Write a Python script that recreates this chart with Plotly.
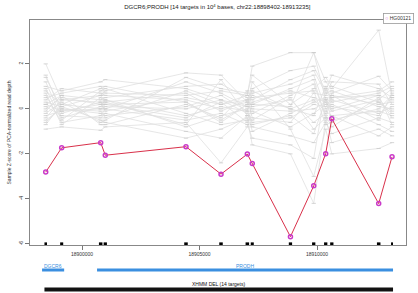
import plotly.graph_objects as go

# ---------------- data ----------------
target_start = [18898402, 18899070, 18900720, 18900920, 18904350, 18905840, 18906960,
                18907180, 18908800, 18909790, 18910300, 18910560, 18912550, 18913150]
target_end = [18898510, 18899200, 18900870, 18901060, 18904500, 18905990, 18907110,
              18907310, 18908940, 18909930, 18910440, 18910700, 18912700, 18913235]

sample_name = "HG00121"
sample_z = [-2.81, -1.73, -1.50, -2.06, -1.68, -2.90, -2.01, -2.43, -5.68, -3.42,
            -1.99, -0.44, -4.21, -2.13]

other_samples_z = [
    [2.0, 0.4, 0.6, 0.8, 1.6, 1.5, 0.3, 0.2, 0.1, 2.5, 0.4, 0.6, 0.2, 0.3],
    [1.5, -0.2, 0.3, -0.1, 0.5, 0.2, 0.6, 1.9, 2.5, 2.5, 1.2, 0.9, 3.5, 0.6],
    [1.0, 0.8, 1.2, 1.3, 0.9, 0.4, -0.2, -0.6, -0.4, 0.2, 0.1, 0.5, 0.8, 1.2],
    [0.6, -0.6, -0.3, 0.0, 1.2, 0.7, 0.1, 0.9, 1.7, 1.9, 0.8, 1.5, 0.9, 0.5],
    [0.3, 0.1, -0.5, -0.6, -1.3, -0.9, -0.4, -1.6, -2.0, -4.2, -0.5, -0.3, -1.2, -0.8],
    [0.0, 0.5, 0.2, 0.3, 0.7, -0.1, 0.4, 0.6, 0.0, -0.3, 1.0, 0.4, -0.2, 0.1],
    [-0.3, -0.1, 0.0, 0.2, -0.4, 0.3, -0.6, -0.2, 0.6, 1.1, -0.3, -0.8, 0.5, -0.4],
    [0.8, 0.2, 0.9, 1.0, 0.3, -0.5, 0.2, 1.2, -0.9, -3.0, -0.9, -2.0, -1.76, -1.5],
    [-0.9, -0.8, -0.95, -0.8, -0.6, -2.4, -0.8, 0.3, 0.8, 0.5, 0.3, -0.1, 0.4, 0.9],
    [0.2, 0.6, 0.4, 0.5, 1.0, 1.1, 0.5, -0.4, -0.6, 0.7, 0.6, 1.2, 1.1, 0.2],
    [-0.5, 0.0, -0.2, -0.3, 0.1, 0.6, -0.1, 0.7, 1.1, 1.5, 0.0, 0.2, -0.7, -1.0],
    [1.2, -0.4, 0.1, 0.4, -0.8, -0.3, 0.0, -1.0, -0.2, 0.3, 0.5, -0.5, 0.0, 0.6],
    [0.4, 0.9, 0.7, 0.6, 0.4, 0.0, 0.3, 0.1, 0.4, -0.6, -0.2, 0.7, 1.45, 0.8],
    [-0.2, 0.3, -0.6, -0.5, 1.4, 0.9, 0.7, 1.5, 0.2, 0.9, 1.4, 1.0, 0.3, -0.2],
    [0.9, -0.5, 0.8, 0.9, -0.2, -0.7, -0.5, -0.8, -1.2, -1.5, -0.6, -1.1, -0.4, -0.6],
    [-0.7, 0.2, 0.0, 0.1, 0.0, 0.4, 0.1, 0.0, -0.1, 0.0, 0.3, 0.0, 0.6, 0.4],
    [0.1, -0.3, -0.4, -0.2, -1.0, -1.3, -0.3, -0.5, 0.5, -0.9, -0.4, -1.5, -0.9, -1.2],
    [0.5, 0.7, 1.0, 0.7, 0.6, 0.8, 0.6, 0.4, 1.3, 1.7, 0.7, 0.8, 0.1, 0.0],
    [-0.4, 0.4, 0.3, 0.0, -0.5, -0.2, -0.7, -1.3, -1.6, -2.2, 0.9, 0.3, 0.7, 1.0],
    [1.4, 0.0, -0.1, -0.4, 0.8, 0.2, 0.4, 0.8, 0.0, 0.4, -0.1, -0.3, -0.1, -0.3],
    [0.7, -0.7, 0.5, 0.3, -0.7, 1.3, -0.3, -0.1, -0.8, -0.2, 0.2, 0.6, -0.5, 0.7],
    [-0.1, 0.6, -0.7, -0.7, 0.2, -0.4, 0.8, 0.5, 0.7, 0.8, -0.7, -0.6, 0.3, -0.1],
    [0.2, -0.1, 0.2, 0.4, -0.3, 0.1, -0.1, -0.7, -0.3, -1.1, 0.4, 0.1, -0.3, 0.5],
    [-0.6, 0.1, 0.6, 0.2, 0.3, -0.6, 0.2, 0.2, 0.9, 1.3, -0.4, 0.5, 0.6, -0.7],
]

genes = ["DGCR6", "PRODH"]
gene_start = [18898300, 18900640]
gene_end = [18899240, 18913235]

cnv_label = "XHMM DEL (14 targets)"
cnv_start = 18898402
cnv_end = 18913235

x_ticks = [18900000, 18905000, 18910000]
y_ticks = [2, 0, -2, -4, -6]
target_marker_y = -6

title_text = "DGCR6;PRODH [14 targets in 10<sup>4</sup> bases, chr22:18898402-18913235]"

# ---------------- figure ----------------
FONT = "Liberation Sans, Arial, sans-serif"
mid = [(s + e) / 2 for s, e in zip(target_start, target_end)]

fig = go.Figure()

for z in other_samples_z:
    fig.add_trace(go.Scatter(
        x=mid, y=z, mode="lines+markers",
        line=dict(color="#e0e0e0", width=0.8),
        marker=dict(symbol="line-ew", size=3, line=dict(color="#c4c4c4", width=0.7)),
        showlegend=False, hoverinfo="skip"))

# target marks
tx, ty = [], []
for s, e in zip(target_start, target_end):
    tx += [s, e, None]
    ty += [target_marker_y, target_marker_y, None]
fig.add_trace(go.Scatter(x=tx, y=ty, mode="lines",
                         line=dict(color="black", width=3),
                         showlegend=False, hoverinfo="skip"))

fig.add_trace(go.Scatter(
    x=mid, y=sample_z, mode="lines+markers", name=sample_name,
    line=dict(color="#d9304a", width=1),
    marker=dict(symbol="circle-open", size=4, color="#c93ac9", line=dict(width=1.5)),
    showlegend=False))

# gene track
for g, s, e in zip(genes, gene_start, gene_end):
    fig.add_trace(go.Scatter(x=[s, e], y=[23, 23], mode="lines", yaxis="y2",
                             line=dict(color="#3b8fe0", width=3),
                             showlegend=False, hoverinfo="skip"))
    fig.add_annotation(x=(s + e) / 2, y=27.5, xref="x", yref="y2", text=g,
                       showarrow=False, font=dict(size=5, color="#3b8fe0", family=FONT))

fig.add_trace(go.Scatter(x=[cnv_start, cnv_end], y=[3.5, 3.5], mode="lines", yaxis="y2",
                         line=dict(color="#111111", width=4),
                         showlegend=False, hoverinfo="skip"))
fig.add_annotation(x=(cnv_start + cnv_end) / 2, y=9, xref="x", yref="y2", text=cnv_label,
                   showarrow=False, font=dict(size=5, color="#111111", family=FONT))

# legend as annotation
fig.add_annotation(x=0.939, y=1.0256, xref="paper", yref="paper", xanchor="left", yanchor="top",
                   text='<span style="color:#c93ac9">○</span> ' + sample_name,
                   showarrow=False, font=dict(size=5, color="#333", family=FONT),
                   bordercolor="#999", borderwidth=0.8, borderpad=1.5, bgcolor="white")

fig.update_layout(
    width=418, height=293,
    margin=dict(l=30, r=12, t=20, b=0),
    paper_bgcolor="white", plot_bgcolor="white",
    font=dict(family=FONT, size=5, color="#333"),
    title=dict(text=title_text, x=0.52, xanchor="center", y=0.975, yanchor="middle",
               font=dict(size=6, color="#222", family=FONT)),
    xaxis=dict(range=[18897787, 18913787], anchor="y", tickvals=x_ticks,
               ticktext=[str(v) for v in x_ticks], ticks="outside", ticklen=4,
               tickcolor="#777", tickwidth=0.8,
               showline=True, linecolor="#888", linewidth=1, mirror=True,
               showgrid=False, zeroline=False, tickfont=dict(size=5, color="#333")),
    yaxis=dict(domain=[0.1758, 1], range=[-6.05, 3.95], tickvals=y_ticks,
               ticktext=[str(v) for v in y_ticks], ticks="outside", ticklen=4,
               tickcolor="#777", tickwidth=0.8, tickangle=-90,
               showline=True, linecolor="#888", linewidth=1, mirror=True,
               showgrid=False, zeroline=False, tickfont=dict(size=5, color="#333"),
               title=dict(text="Sample Z-score of PCA-normalized read depth",
                          font=dict(size=5, color="#333"), standoff=6)),
    yaxis2=dict(domain=[0, 30 / 273], range=[0, 30], visible=False, anchor="x",
                fixedrange=True),
)

fig.write_html("out.html")
